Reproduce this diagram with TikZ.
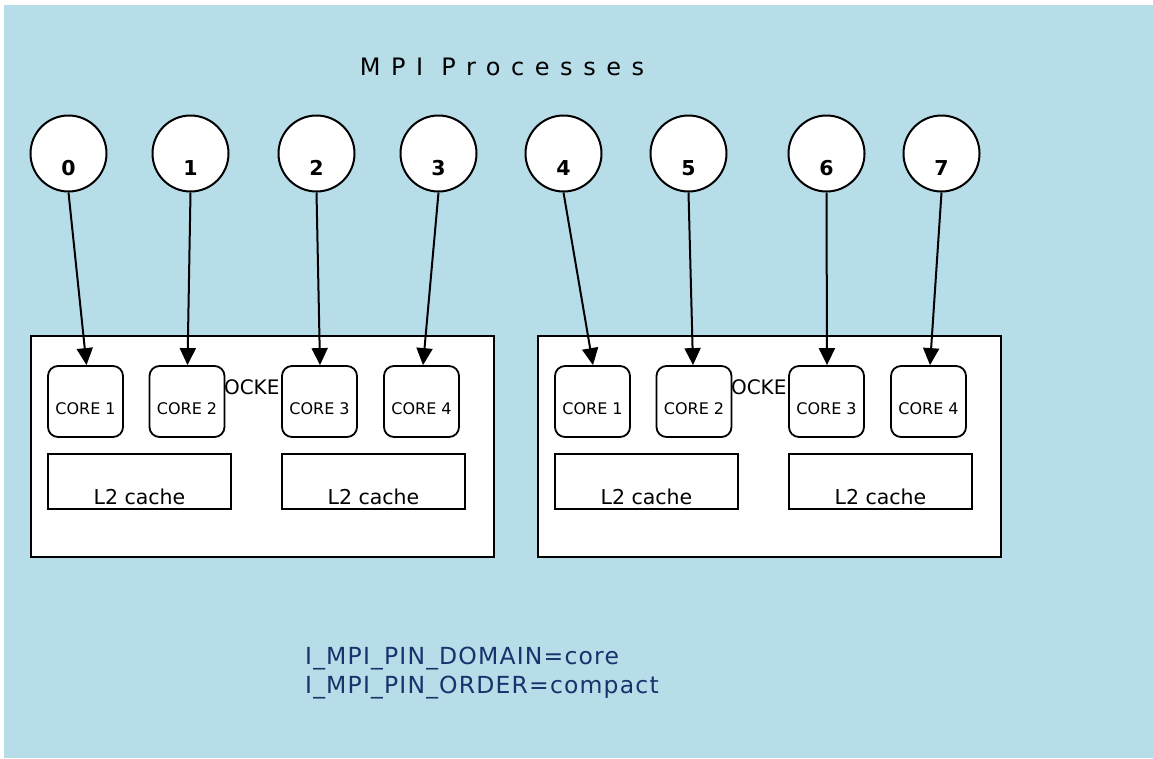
\documentclass[tikz,border=0pt]{standalone}
\usepackage{fontspec}
\setmainfont{DejaVu Sans}
\usetikzlibrary{arrows.meta}
\definecolor{bgblue}{HTML}{B7DDE8}
\definecolor{txtblue}{HTML}{17336B}
\begin{document}
\begin{tikzpicture}[x=1pt,y=-1pt,
  proc/.style={circle,draw=black,line width=2pt,fill=white,minimum size=76pt,inner sep=0pt,font=\bfseries\fontsize{20.5}{20}\selectfont,text height=15pt,text depth=0pt},
  corebox/.style={draw=black,line width=1.8pt,rounded corners=10pt,fill=white,minimum width=75pt,minimum height=71pt,inner sep=0pt,font=\fontsize{16}{18}\selectfont,text height=11.7pt,text depth=0pt},
  cachebox/.style={draw=black,line width=1.8pt,fill=white,minimum width=183pt,minimum height=55pt,inner sep=0pt,font=\fontsize{20.5}{22}\selectfont,text height=15pt,text depth=0pt},
  sockbox/.style={draw=black,line width=1.8pt,fill=white,minimum width=463pt,minimum height=221pt,inner sep=0pt},
  pin/.style={-{Triangle[length=17pt,width=16pt]},line width=2pt}]
\useasboundingbox (0,0) rectangle (1153,758);
\fill[white] (0,0) rectangle (1153,758);
\fill[bgblue] (4,5) rectangle (1153,758);
\node[font=\fontsize{24}{28}\selectfont\addfontfeatures{LetterSpace=44},text height=17.5pt,text depth=0pt,inner sep=0pt] (title) at (502,67) {MPI Processes};
% sockets
\foreach \s/\dx in {1/0,2/507}{
  \node[sockbox] (sock\s) at (262.5+\dx,446.5) {};
  \begin{scope}
    \clip (225+\dx,370) rectangle (278+\dx,400);
    \node[font=\fontsize{20}{22}\selectfont,text height=14.6pt,text depth=0pt,inner sep=0pt] (sockt\s) at (251.5+\dx,387) {SOCKET};
  \end{scope}
  \node[cachebox] (l2a\s) at (139.5+\dx,481.5) {\raisebox{-15pt}{L2 cache}};
  \node[cachebox] (l2b\s) at (373.5+\dx,481.5) {\raisebox{-15pt}{L2 cache}};
  \node[corebox] (c\s1) at (85.5+\dx,401.5) {\raisebox{-7.5pt}{CORE 1}};
  \node[corebox] (c\s2) at (187+\dx,401.5) {\raisebox{-7.5pt}{CORE 2}};
  \node[corebox] (c\s3) at (319.5+\dx,401.5) {\raisebox{-7.5pt}{CORE 3}};
  \node[corebox] (c\s4) at (421.5+\dx,401.5) {\raisebox{-7.5pt}{CORE 4}};
}
% processes
\node[proc] (p0) at (68.5,153.5) {\raisebox{-14pt}{0}};
\node[proc] (p1) at (190.5,153.5) {\raisebox{-14pt}{1}};
\node[proc] (p2) at (316.5,153.5) {\raisebox{-14pt}{2}};
\node[proc] (p3) at (438.5,153.5) {\raisebox{-14pt}{3}};
\node[proc] (p4) at (563.5,153.5) {\raisebox{-14pt}{4}};
\node[proc] (p5) at (688.5,153.5) {\raisebox{-14pt}{5}};
\node[proc] (p6) at (826.5,153.5) {\raisebox{-14pt}{6}};
\node[proc] (p7) at (941.5,153.5) {\raisebox{-14pt}{7}};
\draw[pin] (p0.south) -- (c11.north -| 86.5,0);
\draw[pin] (p1.south) -- (c12.north -| 187.5,0);
\draw[pin] (p2.south) -- (c13.north -| 320,0);
\draw[pin] (p3.south) -- (c14.north -| 423,0);
\draw[pin] (p4.south) -- (c21.north -| 593,0);
\draw[pin] (p5.south) -- (c22.north -| 693,0);
\draw[pin] (p6.south) -- (c23.north -| 827,0);
\draw[pin] (p7.south) -- (c24.north -| 930,0);
\node[anchor=base west,align=left,text=txtblue,font=\fontsize{23.5}{29}\selectfont\addfontfeatures{LetterSpace=5},inner sep=0pt] (env) at (305,693) {I\_MPI\_PIN\_DOMAIN=core\\I\_MPI\_PIN\_ORDER=compact};
\end{tikzpicture}
\end{document}
